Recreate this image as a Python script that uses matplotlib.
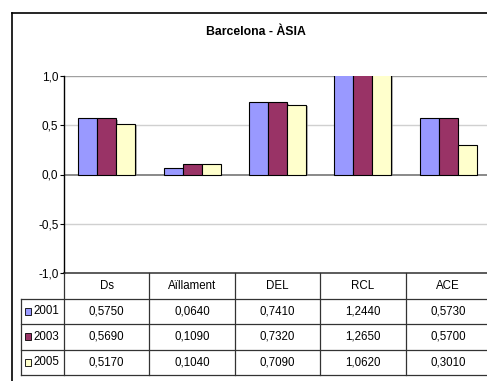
import matplotlib
matplotlib.use("Agg")
import matplotlib.pyplot as plt
import matplotlib.patheffects as pe
from matplotlib.lines import Line2D
import numpy as np

plt.rcParams['font.family'] = ['Liberation Sans', 'DejaVu Sans']

# data
categories = ['Ds', 'Aïllament', 'DEL', 'RCL', 'ACE']
years = ['2001', '2003', '2005']
v2001 = [0.5750, 0.0640, 0.7410, 1.2440, 0.5730]
v2003 = [0.5690, 0.1090, 0.7320, 1.2650, 0.5700]
v2005 = [0.5170, 0.1040, 0.7090, 1.0620, 0.3010]
series = [v2001, v2003, v2005]
colors = ['#9999FF', '#993366', '#FFFFCC']
yticks = [-1.0, -0.5, 0.0, 0.5, 1.0]

W, H = 487, 381
fig = plt.figure(figsize=(W / 100, H / 100), dpi=100)

def fx(px):
    return px / W

def fy(py):
    return 1 - py / H

# outer chart border (runs off the right and bottom edges)
fig.add_artist(Line2D([fx(12), fx(12)], [fy(13), fy(400)], color='black', lw=1.2))
fig.add_artist(Line2D([fx(12), fx(520)], [fy(13), fy(13)], color='black', lw=1.2))

fig.text(fx(256), fy(32), 'Barcelona - ÀSIA', ha='center', va='center',
         fontsize=8.8, fontweight='bold')

# plot area
left, right, top, bottom = 64, 491, 76, 273
ax = fig.add_axes([fx(left), fy(bottom), fx(right - left), (bottom - top) / H])
ax.set_xlim(-0.5, 4.5)
ax.set_ylim(-1, 1)
for s in ['top', 'right', 'bottom']:
    ax.spines[s].set_visible(False)
ax.spines['left'].set_linewidth(1.0)
ax.set_xticks([])
ax.set_yticks(yticks)
ax.set_yticklabels([f'{t:.1f}'.replace('.', ',') for t in yticks], fontsize=8.5)
ax.tick_params(axis='y', length=3, width=0.8, pad=1)

for t in yticks:
    if t == 0:
        ax.axhline(t, color='#808080', lw=1.3, zorder=1)
    elif t == 1.0:
        ax.axhline(t, color='#a0a0a0', lw=1.0, zorder=1)
    elif t == -1.0:
        ax.axhline(t, color='#404040', lw=1.2, zorder=1, clip_on=False)
    else:
        ax.axhline(t, color='#d0d0d0', lw=1.0, zorder=1)

x = np.arange(len(categories))
w = 0.222
shadow = [pe.SimplePatchShadow(offset=(1.2, -0.8), shadow_rgbFace='#808080', alpha=0.6),
          pe.Normal()]
for i, (vals, c) in enumerate(zip(series, colors)):
    ax.bar(x + (i - 1) * w, vals, w, color=c, edgecolor='black', lw=0.8,
           zorder=3, path_effects=shadow)

# data table under the plot
tl, tt, tb = 21, 273, 375
leg_w = (left - tl) / ((right - left) / len(categories))
tax = fig.add_axes([fx(tl), fy(tb), fx(right - tl), (tb - tt) / H])
tax.set_xlim(-0.5 - leg_w, 4.5)
tax.set_ylim(4, 0)
tax.axis('off')
lc = '#333333'
x0 = -0.5 - leg_w
for k in range(len(categories) + 1):
    tax.plot([k - 0.5, k - 0.5], [0, 4], color=lc, lw=0.9, clip_on=False)
tax.plot([x0, x0], [1, 4], color=lc, lw=0.9, clip_on=False)
for r in range(1, 5):
    tax.plot([x0, 4.6], [r, r], color=lc, lw=0.9, clip_on=False)

for k, cat in enumerate(categories):
    tax.text(k, 0.5, cat, ha='center', va='center', fontsize=8.3)
for r, (yr, vals, c) in enumerate(zip(years, series, colors)):
    ry = r + 1.5
    tax.add_patch(plt.Rectangle((x0 + 0.045, ry - 0.13), 0.07, 0.27,
                                facecolor=c, edgecolor='black', lw=0.6))
    tax.text(x0 + 0.15, ry, yr, ha='left', va='center', fontsize=8.3)
    for k, v in enumerate(vals):
        tax.text(k, ry, f'{v:.4f}'.replace('.', ','), ha='center', va='center',
                 fontsize=8.3)

fig.savefig('out.png', dpi=100)
